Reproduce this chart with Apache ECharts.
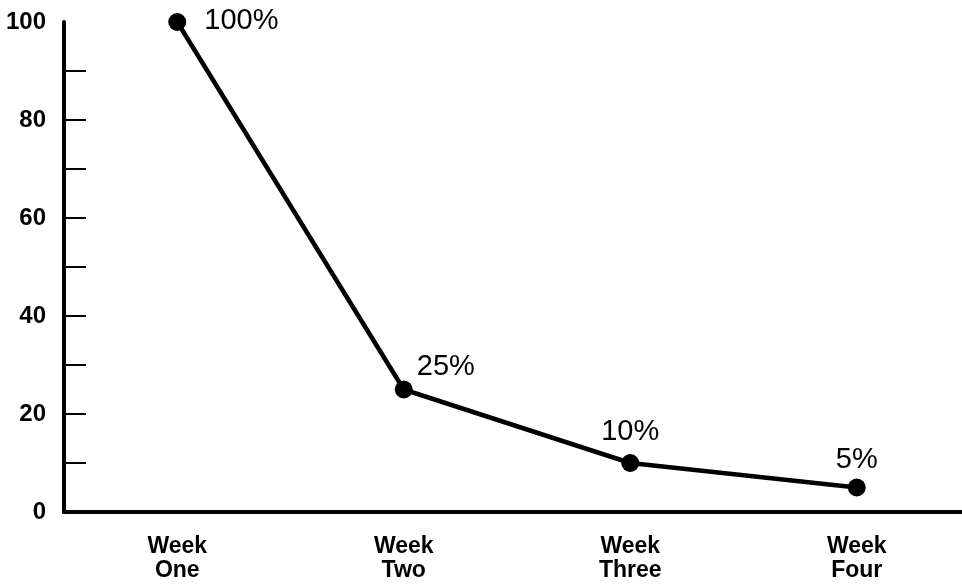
<!DOCTYPE html>
<html>
<head>
<meta charset="utf-8">
<style>
  html, body { margin: 0; padding: 0; background: #fff; }
  #chart { width: 962px; height: 588px; }
</style>
<script src="https://cdn.jsdelivr.net/npm/echarts@6/dist/echarts.min.js"></script>
</head>
<body>
<div id="chart"></div>
<script>
// Weekly retention, as a percentage of the first week
const weeks = ['Week\nOne', 'Week\nTwo', 'Week\nThree', 'Week\nFour'];
const retention = [100, 25, 10, 5];
const yLabelValues = [0, 20, 40, 60, 80, 100];
const yTickValues = [10, 20, 30, 40, 50, 60, 70, 80, 90];

// Where each point's percentage label sits relative to its marker
const labelPlacement = [
  { position: 'right', distance: 18, offset: [0, -1] },
  { position: 'right', distance: 4, offset: [0, -23] },
  { position: 'top', distance: 8, offset: [0, 0] },
  { position: 'top', distance: 4, offset: [0, 0] }
];

const FONT = '"Liberation Sans", Arial, Helvetica, sans-serif';

const chart = echarts.init(document.getElementById('chart'), null, { renderer: 'canvas' });

chart.setOption({
  backgroundColor: '#fff',
  animation: false,
  grid: { left: 64, top: 22, bottom: 76, width: 906, outerBoundsMode: 'none', containLabel: false },
  xAxis: {
    type: 'category',
    data: weeks,
    boundaryGap: true,
    axisLine: { lineStyle: { color: '#000', width: 4 } },
    axisTick: { alignWithLabel: true, length: 11, lineStyle: { color: '#000', width: 2 } },
    axisLabel: {
      color: '#000', fontFamily: FONT, fontWeight: 'bold', fontSize: 23,
      lineHeight: 24, margin: 23
    },
    splitLine: { show: false }
  },
  yAxis: {
    type: 'value',
    min: 0,
    max: 100,
    interval: 20,
    axisLine: { show: true, lineStyle: { color: '#000', width: 4 } },
    axisTick: {
      show: true, inside: true, length: 22, customValues: yTickValues,
      lineStyle: { color: '#000', width: 2 }
    },
    axisLabel: {
      color: '#000', fontFamily: FONT, fontWeight: 'bold', fontSize: 24,
      margin: 18, customValues: yLabelValues
    },
    splitLine: { show: false }
  },
  series: [{
    type: 'line',
    clip: false,
    symbol: 'circle',
    symbolSize: 18,
    itemStyle: { color: '#000' },
    lineStyle: { color: '#000', width: 4.5 },
    data: retention.map((v, i) => ({
      value: v,
      label: Object.assign({
        show: true,
        formatter: '{c}%',
        color: '#000',
        fontFamily: FONT,
        fontSize: 29
      }, labelPlacement[i])
    }))
  }]
});
</script>
</body>
</html>
